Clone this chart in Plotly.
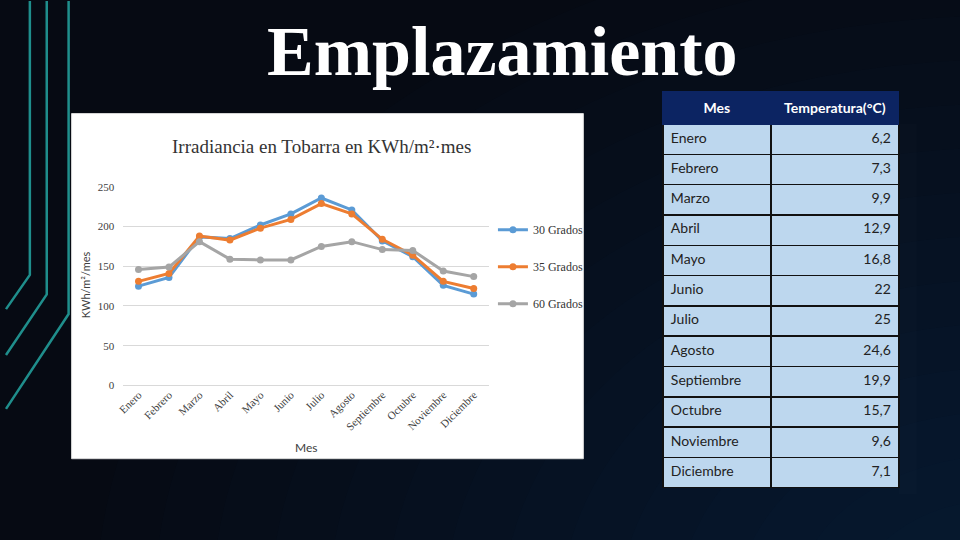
import plotly.graph_objects as go

# ---------------- data ----------------
months = ["Enero", "Febrero", "Marzo", "Abril", "Mayo", "Junio", "Julio",
          "Agosto", "Septiembre", "Octubre", "Noviembre", "Diciembre"]
irr_30 = [125, 136, 187, 185, 202, 216, 236, 221, 182, 162, 126, 115]
irr_35 = [131, 141, 188, 183, 198, 209, 229, 216, 184, 164, 131, 122]
irr_60 = [146, 149, 181, 159, 158, 158, 175, 181, 171, 170, 144, 137]
series_names = ["30 Grados", "35 Grados", "60 Grados"]
series_colors = ["#5b9bd5", "#ed7d31", "#a5a5a5"]

table_months = ["Enero", "Febrero", "Marzo", "Abril", "Mayo", "Junio", "Julio",
                "Agosto", "Septiembre", "Octubre", "Noviembre", "Diciembre"]
temperatures = [6.2, 7.3, 9.9, 12.9, 16.8, 22, 25, 24.6, 19.9, 15.7, 9.6, 7.1]
y_ticks = [0, 50, 100, 150, 200, 250]

W, H = 960, 540


def px(x):
    return x / W


def py(y):
    return 1 - y / H


def fmt(v):
    s = ("%g" % v)
    return s.replace(".", ",")


fig = go.Figure()

for name, vals, col in zip(series_names, [irr_30, irr_35, irr_60], series_colors):
    fig.add_trace(go.Scatter(
        x=months, y=vals, name=name, mode="lines+markers",
        line=dict(color=col, width=3),
        marker=dict(color=col, size=7),
        legendgroup=name, cliponaxis=False,
    ))

fig.add_trace(go.Table(
    domain=dict(x=[px(661), px(899)], y=[py(500), py(87)]),
    columnwidth=[109, 129],
    header=dict(
        values=["<b>Mes</b>", "<b>Temperatura(°C)</b>"],
        fill_color="#0c2462",
        line=dict(color="#0c2462", width=1),
        font=dict(family="Lato, Open Sans, sans-serif", size=14, color="white"),
        align=["center", "center"],
        height=31,
    ),
    cells=dict(
        values=[table_months, [fmt(t) for t in temperatures]],
        fill_color="#bdd7ee",
        line=dict(color="#111111", width=1.5),
        font=dict(family="Lato, Open Sans, sans-serif", size=14, color="#222222"),
        align=["left", "right"],
        height=30.3,
    ),
))

shapes = []
# soft background glow toward lower right
n_glow = 14
for i in range(n_glow):
    r = 700 - i * 45
    cx, cy = 1000, 620
    shapes.append(dict(type="circle", xref="paper", yref="paper",
                       x0=px(cx - r * 1.3), x1=px(cx + r * 1.3),
                       y0=py(cy + r), y1=py(cy - r),
                       fillcolor="rgba(50,70,130,0.022)", line=dict(width=0),
                       layer="below"))
# teal decorative lines
for (xv, yb, yend) in [(24, 275, 310), (41, 295, 357), (63, 315, 412)]:
    path = "M %f,%f L %f,%f L %f,%f" % (px(xv), py(-5), px(xv), py(yb), px(0), py(yend))
    shapes.append(dict(type="path", xref="paper", yref="paper", path=path,
                       line=dict(color="#1f8e8c", width=2.5), layer="below"))
# white chart box
shapes.append(dict(type="rect", xref="paper", yref="paper",
                   x0=px(66), x1=px(581), y0=py(463), y1=py(110),
                   fillcolor="white", line=dict(color="#d9d9d9", width=1),
                   layer="below"))

annotations = [
    dict(text="<b>Emplazamiento</b>", xref="paper", yref="paper",
         x=px(500), y=py(47), xanchor="center", yanchor="middle", showarrow=False,
         font=dict(family="Liberation Serif, DejaVu Serif, serif", size=70, color="white")),
    dict(text="Irradiancia en Tobarra en KWh/m²·mes", xref="paper", yref="paper",
         x=px(317), y=py(144), xanchor="center", yanchor="middle", showarrow=False,
         font=dict(family="Liberation Serif, serif", size=19, color="#333333")),
    dict(text="KWh/m²/mes", xref="paper", yref="paper", textangle=-90,
         x=px(80), y=py(285), xanchor="center", yanchor="middle", showarrow=False,
         font=dict(family="Lato, Open Sans, sans-serif", size=11, color="#404040")),
    dict(text="Mes", xref="paper", yref="paper",
         x=px(302), y=py(452), xanchor="center", yanchor="middle", showarrow=False,
         font=dict(family="Lato, Open Sans, sans-serif", size=12, color="#404040")),
]

fig.update_layout(
    width=W, height=H,
    margin=dict(l=0, r=0, t=0, b=0),
    paper_bgcolor="#060a13",
    plot_bgcolor="rgba(0,0,0,0)",
    shapes=shapes,
    annotations=annotations,
    showlegend=True,
    legend=dict(x=px(490), y=py(214), xanchor="left", yanchor="top",
                bgcolor="rgba(0,0,0,0)", tracegroupgap=18,
                font=dict(family="Liberation Serif, serif", size=12, color="#333333")),
    xaxis=dict(domain=[px(118), px(486)], range=[-0.5, 11.5], type="category",
               showgrid=False, showline=False, ticks="", tickangle=-45,
               tickfont=dict(family="Liberation Serif, serif", size=11, color="#404040")),
    yaxis=dict(domain=[py(388), py(185)], range=[0, 250], tickvals=y_ticks,
               showgrid=True, gridcolor="#d9d9d9", gridwidth=1,
               zeroline=True, zerolinecolor="#d9d9d9", zerolinewidth=1,
               showline=False, ticks="", ticklabelstandoff=8,
               tickfont=dict(family="Liberation Serif, serif", size=11, color="#404040")),
)

fig.write_html("out.html", config={"displayModeBar": False},
               post_script="document.body.style.margin='0';document.body.style.overflow='hidden';document.body.style.background='#060a13';")
